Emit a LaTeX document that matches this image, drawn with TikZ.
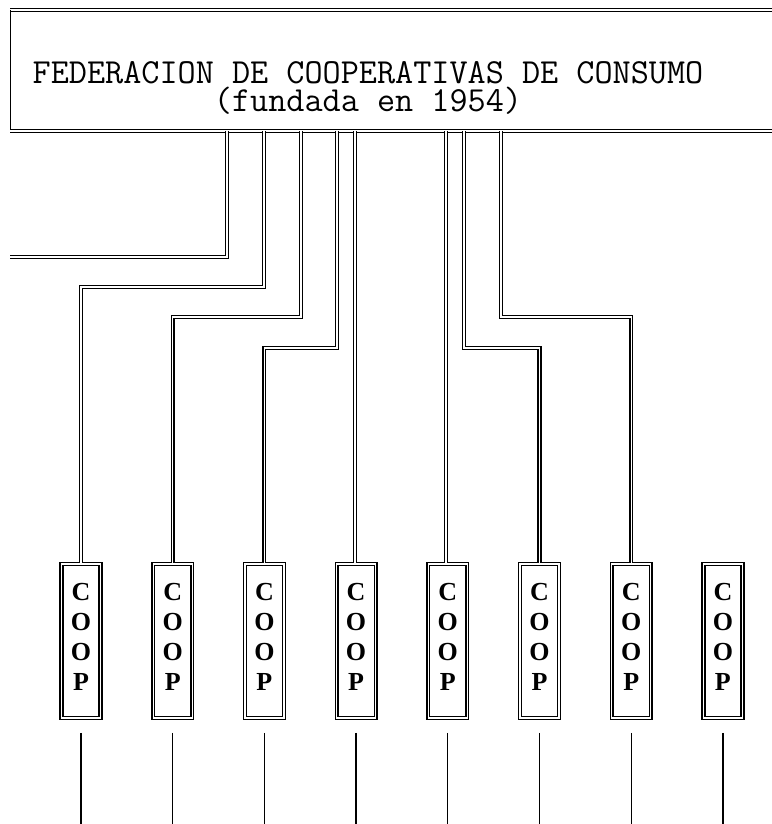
\documentclass[tikz,border=0pt]{standalone}
\usepackage{fontspec}
\setmainfont{Liberation Serif}
\usetikzlibrary{positioning}

\begin{document}
\begin{tikzpicture}[x=1pt,y=-1pt,node distance=91.7pt,on grid]
       \tikzstyle{link}=[draw,double,line width=1.5pt,double distance=1.1pt]
       \tikzstyle{coop}=[draw,double,line width=1.5pt,double distance=1.2pt,
         minimum width=39pt,minimum height=154pt,inner sep=0pt,align=center,
         font=\bfseries\fontsize{26}{29.8}\selectfont,text depth=8pt]
       \tikzstyle{tail}=[line width=1.3pt]
       \useasboundingbox (0,0) rectangle (771,824);

       \node[font=\ttfamily\fontsize{35.2}{28}\selectfont,align=center] (fed) at (368,88)
         {FEDERACION DE COOPERATIVAS DE CONSUMO\\(fundada en 1954)};
       \coordinate (nw) at (10,10);
       \coordinate (ne) at (800,10);
       \coordinate (sw) at (10,131);
       \coordinate (se) at (800,131);
       \draw[link] (ne) -- (nw);
       \draw[line width=1pt] (nw) -- (sw);
       \draw[link] (sw) -- (se);

       \node[coop] (c1) at (81,641) {C\\O\\O\\P};
       \node[coop] (c2) [right of=c1] {C\\O\\O\\P};
       \node[coop] (c3) [right of=c2] {C\\O\\O\\P};
       \node[coop] (c4) [right of=c3] {C\\O\\O\\P};
       \node[coop] (c5) [right of=c4] {C\\O\\O\\P};
       \node[coop] (c6) [right of=c5] {C\\O\\O\\P};
       \node[coop] (c7) [right of=c6] {C\\O\\O\\P};
       \node[coop] (c8) [right of=c7] {C\\O\\O\\P};

       \coordinate (d0) at (227,131);
       \coordinate (d1) at (264,131);
       \coordinate (d2) at (301,131);
       \coordinate (d3) at (337,131);
       \coordinate (d4) at (355,131);
       \coordinate (d5) at (446,131);
       \coordinate (d6) at (464,131);
       \coordinate (d7) at (501,131);
       \coordinate (away) at (10,257);
       \coordinate (bot) at (0,824);

       \draw[link] (d0) |- (away);
       \draw[link] (d1) -- ++(0,156) -| (c1.north);
       \draw[link] (d2) -- ++(0,186) -| (c2.north);
       \draw[link] (d3) -- ++(0,217) -| (c3.north);
       \draw[link] (d4) -- (d4 |- c4.north);
       \draw[link] (d5) -- (d5 |- c5.north);
       \draw[link] (d6) -- ++(0,217) -| (c6.north);
       \draw[link] (d7) -- ++(0,186) -| (c7.north);

       \path[tail]
       ([yshift=-14pt]c1.south) edge (c1.south |- bot)
       ([yshift=-14pt]c2.south) edge (c2.south |- bot)
       ([yshift=-14pt]c3.south) edge (c3.south |- bot)
       ([yshift=-14pt]c4.south) edge (c4.south |- bot)
       ([yshift=-14pt]c5.south) edge (c5.south |- bot)
       ([yshift=-14pt]c6.south) edge (c6.south |- bot)
       ([yshift=-14pt]c7.south) edge (c7.south |- bot)
       ([yshift=-14pt]c8.south) edge (c8.south |- bot);
     \end{tikzpicture}
\end{document}
